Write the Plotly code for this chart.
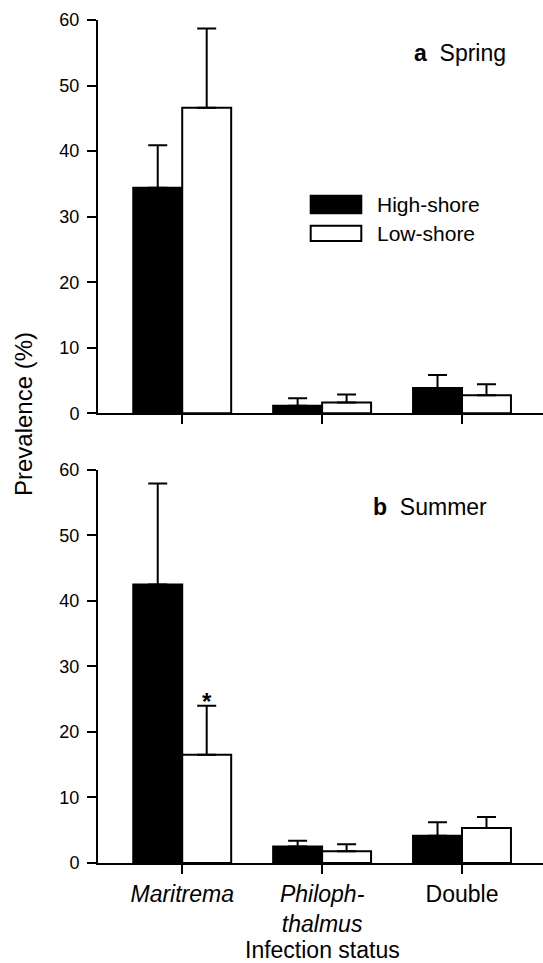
import plotly.graph_objects as go

# ---- data ----
categories = ["Maritrema", "Philophthalmus", "Double"]
tick_labels = ["<i>Maritrema</i>", "<i>Philoph-</i><br><i>thalmus</i>", "Double"]
series_names = ["High-shore", "Low-shore"]

spring_high = [34.4, 1.15, 3.85]
spring_high_se = [6.5, 1.15, 2.0]
spring_low = [46.6, 1.65, 2.75]
spring_low_se = [12.1, 1.2, 1.7]

summer_high = [42.5, 2.5, 4.15]
summer_high_se = [15.4, 0.9, 2.05]
summer_low = [16.5, 1.8, 5.35]
summer_low_se = [7.5, 1.05, 1.65]

y_ticks = [0, 10, 20, 30, 40, 50, 60]
significant = [True, False, False]  # summer low-shore differs

# ---- layout constants ----
W, H = 543, 963
ML, MR, MT, MB = 98, 0, 20, 100
PW, PH = W - ML - MR, H - MT - MB
FONT = "Liberation Sans, Arial, sans-serif"
BARGAP = 0.30


def px2x(px):
    return (px - ML) / PW


def py2y(py):
    return (H - MB - py) / PH


xpos = list(range(len(categories)))

fig = go.Figure()


def add_pair(high, high_se, low, low_se, xa, ya):
    for vals, se, fill in ((high, high_se, "black"), (low, low_se, "white")):
        fig.add_trace(go.Bar(
            x=xpos, y=vals, xaxis=xa, yaxis=ya,
            marker=dict(color=fill, line=dict(color="black", width=2)),
            error_y=dict(type="data", symmetric=False, array=se,
                         arrayminus=[0] * len(se), color="black",
                         thickness=2, width=9.5),
            showlegend=False,
        ))


add_pair(spring_high, spring_high_se, spring_low, spring_low_se, "x", "y")
add_pair(summer_high, summer_high_se, summer_low, summer_low_se, "x2", "y2")

xrange = [-0.602, 2.579]
common_x = dict(range=xrange, showline=True, linecolor="black", linewidth=2,
                ticks="outside", ticklen=9, tickwidth=2, tickcolor="black",
                tickvals=xpos, showgrid=False, zeroline=False)
common_y = dict(range=[0, 60], tickvals=y_ticks, showline=True,
                linecolor="black", linewidth=2, ticks="outside", ticklen=9,
                tickwidth=2, tickcolor="black", showgrid=False, zeroline=False,
                tickfont=dict(size=18, family=FONT, color="black"),
                ticklabelstandoff=4)

top_dom = [py2y(413.3), 1.0]
bot_dom = [0.0, py2y(469.7)]

fig.update_layout(
    width=W, height=H,
    margin=dict(l=ML, r=MR, t=MT, b=MB),
    paper_bgcolor="white", plot_bgcolor="white",
    barmode="group", bargap=BARGAP, bargroupgap=0,
    font=dict(family=FONT, color="black"),
    xaxis=dict(**common_x, anchor="y", showticklabels=False),
    yaxis=dict(**common_y, domain=top_dom, anchor="x"),
    xaxis2=dict(**common_x, anchor="y2", ticktext=tick_labels,
                tickfont=dict(size=23, family=FONT, color="black")),
    yaxis2=dict(**common_y, domain=bot_dom, anchor="x2"),
)

# legend drawn as boxes + labels
box_x0, box_x1 = px2x(310.7), px2x(361.3)
legend_rows = [(195.7, 213.3, "black"), (225.7, 241.0, "white")]
for (y0, y1, fill), name in zip(legend_rows, series_names):
    fig.add_shape(type="rect", xref="paper", yref="paper",
                  x0=box_x0, x1=box_x1, y0=py2y(y1), y1=py2y(y0),
                  fillcolor=fill, line=dict(color="black", width=2))
    fig.add_annotation(xref="paper", yref="paper", x=px2x(375),
                       y=py2y((y0 + y1) / 2), text=name, showarrow=False,
                       xanchor="left", yanchor="middle",
                       font=dict(size=21, family=FONT, color="black"))

# panel labels
fig.add_annotation(xref="paper", yref="paper", x=px2x(412), y=py2y(53),
                   text="<b>a</b>  Spring", showarrow=False, xanchor="left",
                   yanchor="middle", font=dict(size=23, family=FONT, color="black"))
fig.add_annotation(xref="paper", yref="paper", x=px2x(371), y=py2y(507),
                   text="<b>b</b>  Summer", showarrow=False, xanchor="left",
                   yanchor="middle", font=dict(size=23, family=FONT, color="black"))

# axis titles
fig.add_annotation(xref="paper", yref="paper", x=px2x(23), y=py2y(414),
                   text="Prevalence (%)", showarrow=False, textangle=-90,
                   xanchor="center", yanchor="middle",
                   font=dict(size=24, family=FONT, color="black"))
fig.add_annotation(xref="paper", yref="paper", x=px2x(322), y=py2y(950),
                   text="Infection status", showarrow=False,
                   xanchor="center", yanchor="middle",
                   font=dict(size=23, family=FONT, color="black"))

# significance star above summer low-shore bar
group_w = 1 - BARGAP
for i, sig in enumerate(significant):
    if sig:
        fig.add_annotation(xref="x2", yref="y2", x=xpos[i] + group_w / 4,
                           y=summer_low[i] + summer_low_se[i],
                           text="<b>*</b>", showarrow=False, yanchor="bottom",
                           yshift=-11,
                           font=dict(size=24, family=FONT, color="black"))

fig.write_html("out.html")
